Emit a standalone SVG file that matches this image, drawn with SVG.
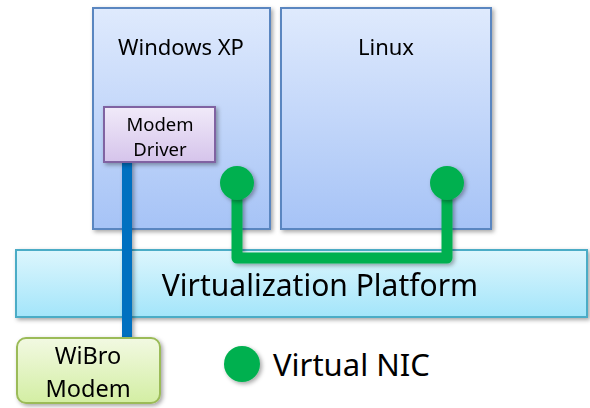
<svg xmlns="http://www.w3.org/2000/svg" width="590" height="408" viewBox="0 0 590 408">
<defs>
<linearGradient id="gOS" x1="0" y1="0" x2="0" y2="1"><stop offset="0" stop-color="#DFEAFD"/><stop offset="1" stop-color="#A6C3F6"/></linearGradient>
<linearGradient id="gVP" x1="0" y1="0" x2="0" y2="1"><stop offset="0" stop-color="#DDF6FD"/><stop offset="1" stop-color="#A3E5FA"/></linearGradient>
<linearGradient id="gMD" x1="0" y1="0" x2="0" y2="1"><stop offset="0" stop-color="#F1EAF9"/><stop offset="1" stop-color="#D5C4EB"/></linearGradient>
<linearGradient id="gWB" x1="0" y1="0" x2="0" y2="1"><stop offset="0" stop-color="#F2F9E2"/><stop offset="1" stop-color="#D3EEA3"/></linearGradient>
<filter id="sh" filterUnits="userSpaceOnUse" x="0" y="0" width="590" height="408"><feDropShadow dx="2" dy="2" stdDeviation="2" flood-color="#000" flood-opacity="0.35"/></filter>
</defs>
<style>
text{font-family:"Noto Sans","Open Sans","DejaVu Sans",sans-serif;fill:#000;text-anchor:middle}
.os{fill:url(#gOS);stroke:#5A86C0;stroke-width:2}
.nic{fill:#00B050}
.gl{stroke:#00B050;stroke-width:11;fill:none;stroke-linejoin:round}
</style>
<g id="winxp" filter="url(#sh)">
<rect class="os" x="93" y="8" width="177" height="221"/>
<text x="181" y="55" font-size="22">Windows XP</text>
</g>
<g id="linux" filter="url(#sh)">
<rect class="os" x="281" y="8" width="210" height="221"/>
<text x="386" y="55" font-size="22">Linux</text>
</g>
<g id="vp" filter="url(#sh)">
<rect x="16" y="250" width="571" height="67" fill="url(#gVP)" stroke="#4BACC6" stroke-width="2"/>
<text x="320" y="296" font-size="30">Virtualization Platform</text>
</g>
<g id="connectors">
<rect x="122" y="160" width="10" height="180" fill="#0070C0" filter="url(#sh)"/>
<path class="gl" d="M237 183 V258 H447 V183" filter="url(#sh)"/>
</g>
<g id="modemdriver" filter="url(#sh)">
<rect x="104" y="107" width="111" height="55" fill="url(#gMD)" stroke="#8064A2" stroke-width="2"/>
<text x="160" y="131" font-size="18.5">Modem</text>
<text x="160" y="156" font-size="18.5">Driver</text>
</g>
<g id="nic1" filter="url(#sh)"><circle class="nic" cx="237" cy="183" r="17"/></g>
<g id="nic2" filter="url(#sh)"><circle class="nic" cx="447" cy="183" r="17"/></g>
<g id="wibro" filter="url(#sh)">
<rect x="17" y="338" width="143" height="65" rx="9" fill="url(#gWB)" stroke="#9BBB59" stroke-width="2"/>
<text x="88" y="364" font-size="23.5">WiBro</text>
<text x="88" y="397" font-size="23.5">Modem</text>
</g>
<g id="legend">
<circle class="nic" cx="242" cy="364" r="18" filter="url(#sh)"/>
<text x="273" y="376" font-size="31" style="text-anchor:start">Virtual NIC</text>
</g>
</svg>
